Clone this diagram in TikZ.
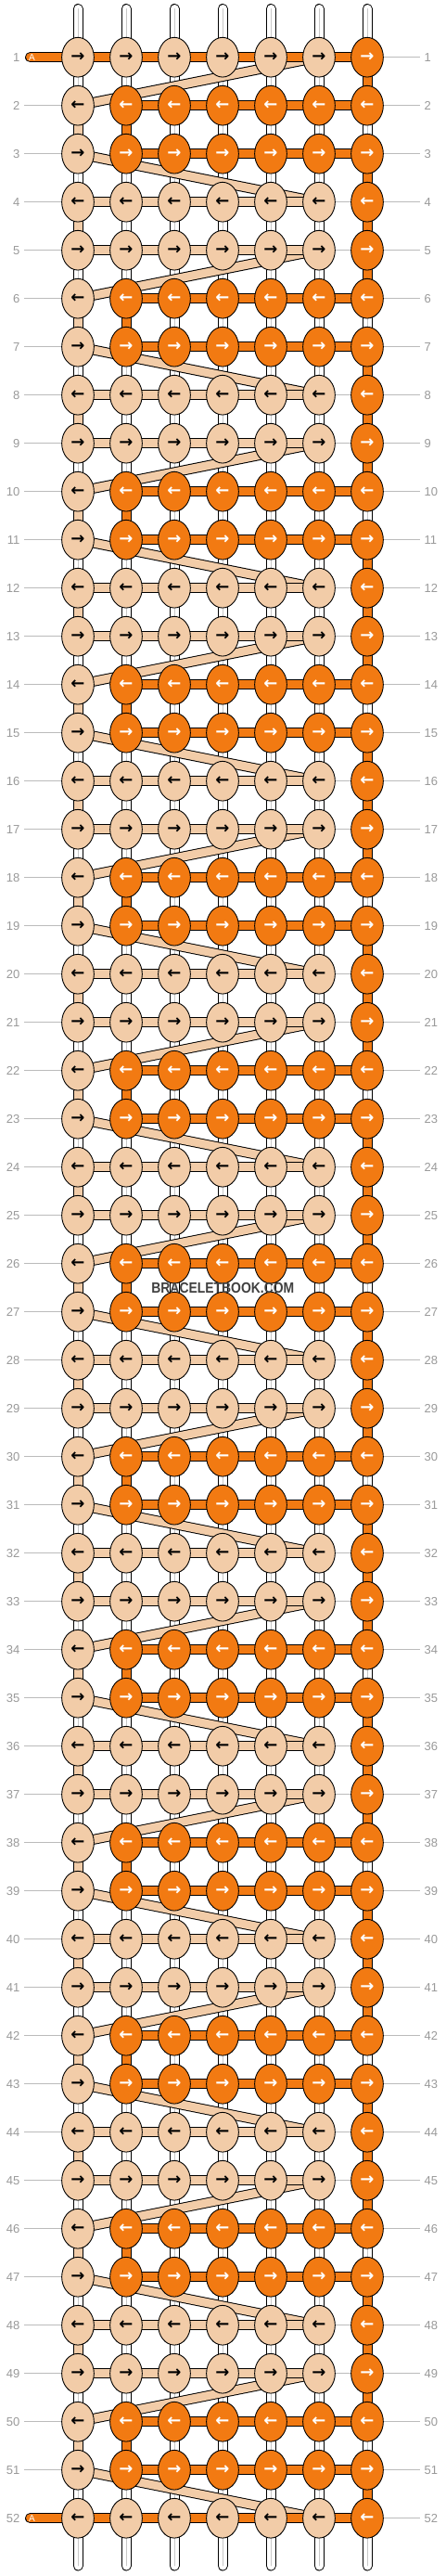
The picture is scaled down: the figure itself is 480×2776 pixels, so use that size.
\documentclass[tikz,border=0pt]{standalone}
\usepackage{fontspec}
\setmainfont{Liberation Sans}
\newfontfamily\arrowfont{DejaVu Sans}
\usepackage{xcolor}
\usetikzlibrary{shapes,shapes.geometric}
\definecolor{lightc}{HTML}{F2CCA8}
\definecolor{darkc}{HTML}{F27A12}
\definecolor{rowgray}{HTML}{999999}
\definecolor{linegray}{HTML}{BBBBBB}
\definecolor{midgray}{HTML}{C8C8C8}
\pgfdeclarelayer{threads}
\pgfdeclarelayer{bands}
\pgfdeclarelayer{bars}
\pgfsetlayers{threads,bands,bars,main}
\tikzset{
  knot/.style={ellipse, draw=black, line width=0.9pt, inner sep=0pt,
    minimum width=34.7pt, minimum height=42.7pt,
    font=\arrowfont\bfseries\fontsize{18}{18}\selectfont},
  lightknot/.style={knot, fill=lightc, text=black},
  darkknot/.style={knot, fill=darkc, text=white},
  whitethr/.style={draw=white, line width=9pt, line cap=round,
    preaction={draw=black, line width=11pt, line cap=round},
    postaction={draw=midgray, line width=0.8pt, line cap=round}},
  lightthr/.style={draw=lightc, line width=9pt, line cap=round,
    preaction={draw=black, line width=11pt, line cap=round}},
  darkthr/.style={draw=darkc, line width=9pt, line cap=round,
    preaction={draw=black, line width=11pt, line cap=round}},
  rowno/.style={text=rowgray, inner sep=0pt, font=\fontsize{13}{13}\selectfont},
  rowline/.style={draw=linegray, line width=0.8pt}
}
\begin{document}
\begin{tikzpicture}[x=1pt, y=-1pt]
  \useasboundingbox (0,0) rectangle (480,2776);
  \foreach \r in {1,...,52}{
    \pgfmathtruncatemacro\m{mod(\r,4)}
    \pgfmathsetmacro\y{61.7+52*(\r-1)}
    \ifodd\r \def\ar{→}\else \def\ar{←}\fi
    \foreach \c in {1,...,7}{
      \pgfmathsetmacro\x{84+52*(\c-1)}
      \ifnum\m<2
        \ifnum\c=7 \def\ks{darkknot}\else \def\ks{lightknot}\fi
      \else
        \ifnum\c=1 \def\ks{lightknot}\else \def\ks{darkknot}\fi
      \fi
      \node[\ks] (k-\r-\c) at (\x,\y) {\ar};
    }
    \node[rowno, anchor=east] (ln-\r) at (21.5,\y) {\r};
    \node[rowno, anchor=west] (rn-\r) at (457.5,\y) {\r};
  }
  \coordinate (a-1) at (32.5,61.7);
  \coordinate (a-52) at (32.5,2713.7);
  \node[text=white, inner sep=0pt, font=\fontsize{10}{10}\selectfont] (at-1) at (34.5,61.7) {A};
  \node[text=white, inner sep=0pt, font=\fontsize{10}{10}\selectfont] (at-52) at (34.5,2713.7) {A};
  \node[text=black!75, font=\bfseries\fontsize{16}{16}\selectfont, xscale=0.87, transform shape] (wm) at (240.3,1387.5) {BRACELETBOOK.COM};

  \begin{pgfonlayer}{threads}
    \foreach \c in {1,...,7}{
      \path (k-1-\c) ++(0,-52.2) coordinate (top-\c);
      \path (k-52-\c) ++(0,51.3) coordinate (bot-\c);
      \draw[whitethr] (top-\c) -- (k-1-\c.center);
      \draw[whitethr] (k-52-\c.center) -- (bot-\c);
    }
    \foreach \r in {1,...,51}{
      \pgfmathtruncatemacro\n{\r+1}
      \pgfmathtruncatemacro\m{mod(\r,4)}
      \foreach \c in {1,...,7}{
        \def\ts{whitethr}
        \ifnum\c=7 \ifnum\m=2 \else \def\ts{darkthr}\fi\fi
        \ifnum\c=1 \ifodd\m \else \def\ts{lightthr}\fi\fi
        \ifnum\c=2 \ifnum\m=2 \def\ts{darkthr}\fi\fi
        \draw[\ts] (k-\r-\c.center) -- (k-\n-\c.center);
      }
    }
  \end{pgfonlayer}

  \begin{pgfonlayer}{bands}
    \foreach \r in {1,5,...,49}{
      \pgfmathtruncatemacro\n{\r+1}
      \draw[lightthr] (k-\r-6.center) -- (k-\n-1.center);
    }
    \foreach \r in {3,7,...,51}{
      \pgfmathtruncatemacro\n{\r+1}
      \draw[lightthr] (k-\r-1.center) -- (k-\n-6.center);
    }
  \end{pgfonlayer}

  \begin{pgfonlayer}{bars}
    \foreach \r in {1,...,52}{
      \pgfmathtruncatemacro\m{mod(\r,4)}
      \draw[rowline] (k-\r-7) -- (rn-\r.west) [shorten >=4.5pt];
      \ifnum\m<2
        \ifnum\r=1 \else \ifnum\r=52 \else
          \foreach \c [count=\d from 2] in {1,...,5}
            \draw[lightthr] (k-\r-\c.center) -- (k-\r-\d.center);
          \draw[rowline] (k-\r-6) -- (k-\r-7);
          \draw[rowline] (ln-\r.east) -- (k-\r-1) [shorten <=4.5pt];
        \fi\fi
      \else
        \foreach \c [count=\d from 3] in {2,...,6}
          \draw[darkthr] (k-\r-\c.center) -- (k-\r-\d.center);
        \draw[rowline] (ln-\r.east) -- (k-\r-1) [shorten <=4.5pt];
      \fi
    }
    \foreach \r in {1,52}{
      \draw[darkthr] (a-\r) -- (k-\r-1.center);
      \foreach \c [count=\d from 2] in {1,...,6}
        \draw[darkthr] (k-\r-\c.center) -- (k-\r-\d.center);
    }
  \end{pgfonlayer}
\end{tikzpicture}
\end{document}
